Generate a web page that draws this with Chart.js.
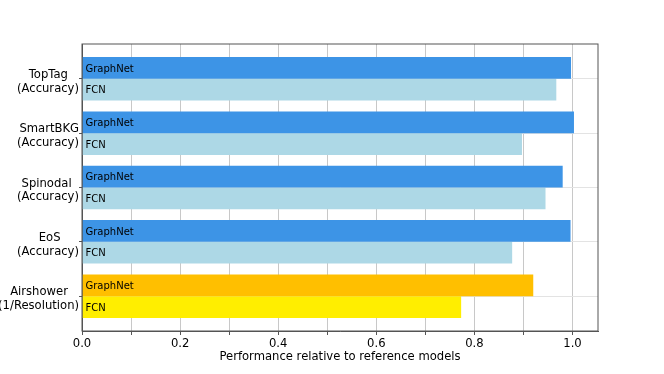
<!DOCTYPE html>
<html>
<head>
<meta charset="utf-8">
<script src="https://cdn.jsdelivr.net/npm/chart.js@4"></script>
<style>
  body { margin: 0; background: #fff; }
  canvas { display: block; }
</style>
</head>
<body>
<canvas id="perf" width="664" height="374"></canvas>
<script>
var categories = [
    ['TopTag', '(Accuracy)'],
    ['SmartBKG', '(Accuracy)'],
    ['Spinodal', '(Accuracy)'],
    ['EoS', '(Accuracy)'],
    ['Airshower', '(1/Resolution)']
];
var graphnetValues = [0.997, 1.003, 0.980, 0.996, 0.920];
var fcnValues = [0.967, 0.897, 0.945, 0.877, 0.773];
var xTicks = [0.0, 0.1, 0.2, 0.3, 0.4, 0.5, 0.6, 0.7, 0.8, 0.9, 1.0];

var graphnetColors = ['#3d94e6', '#3d94e6', '#3d94e6', '#3d94e6', '#ffbf00'];
var fcnColors = ['#add8e6', '#add8e6', '#add8e6', '#add8e6', '#ffee00'];

var FONT = '"DejaVu Sans", sans-serif';
var LABEL_SIZE = 11.6;

// matplotlib centres each multi-line tick label on its own widest line;
// pad the shorter lines with trailing spaces to get the same look when right aligned
var measure = document.createElement('canvas').getContext('2d');
measure.font = LABEL_SIZE + 'px ' + FONT;
function centerLines(lines) {
    var widths = lines.map(function (l) { return measure.measureText(l).width; });
    var maxW = Math.max.apply(null, widths);
    var spaceW = measure.measureText(' ').width;
    return lines.map(function (l, i) {
        var n = Math.round((maxW - widths[i]) / 2 / spaceW);
        return l + ' '.repeat(n);
    });
}
var yLabels = categories.map(centerLines);

function points(values) {
    return values.map(function (v, i) { return {x: v, y: i}; });
}

var barLabels = {
    id: 'barLabels',
    afterDatasetsDraw: function (chart) {
        var ctx = chart.ctx;
        ctx.save();
        ctx.font = '10px ' + FONT;
        ctx.fillStyle = '#000';
        ctx.textAlign = 'left';
        ctx.textBaseline = 'middle';
        chart.data.datasets.forEach(function (ds, di) {
            chart.getDatasetMeta(di).data.forEach(function (bar) {
                ctx.fillText(ds.label, bar.base + 3, bar.y + 1);
            });
        });
        ctx.restore();
    }
};

var frame = {
    id: 'frame',
    afterDraw: function (chart) {
        var a = chart.chartArea;
        var ctx = chart.ctx;
        ctx.save();
        ctx.strokeStyle = '#555';
        ctx.lineWidth = 1;
        ctx.strokeRect(a.left, a.top, a.right - a.left, a.bottom - a.top);
        ctx.restore();
    }
};

var perfChart = new Chart(document.getElementById('perf'), {
    type: 'bar',
    data: {
        datasets: [
            {
                label: 'GraphNet',
                data: points(graphnetValues),
                backgroundColor: graphnetColors,
                borderWidth: 0
            },
            {
                label: 'FCN',
                data: points(fcnValues),
                backgroundColor: fcnColors,
                borderWidth: 0
            }
        ]
    },
    options: {
        indexAxis: 'y',
        responsive: false,
        animation: false,
        categoryPercentage: 0.8,
        barPercentage: 1.0,
        layout: {
            padding: {top: 44, right: 66, left: 0, bottom: 0}
        },
        plugins: {
            legend: {display: false},
            tooltip: {enabled: false}
        },
        scales: {
            x: {
                type: 'linear',
                min: 0,
                max: 1.052,
                z: 1,
                afterBuildTicks: function (scale) {
                    scale.ticks = xTicks.map(function (v) { return {value: v}; });
                },
                afterFit: function (scale) { scale.height = 43; },
                grid: {
                    color: 'rgba(170,170,170,0.65)',
                    tickColor: '#555',
                    tickLength: 4
                },
                border: {color: '#555'},
                ticks: {
                    color: '#000',
                    padding: 2,
                    maxRotation: 0,
                    autoSkip: false,
                    font: {family: FONT, size: LABEL_SIZE},
                    callback: function (value, index) {
                        return index % 2 === 0 ? value.toFixed(1) : '';
                    }
                },
                title: {
                    display: true,
                    text: 'Performance relative to reference models',
                    color: '#000',
                    font: {family: FONT, size: LABEL_SIZE},
                    padding: {top: 0, bottom: 10}
                }
            },
            y: {
                type: 'linear',
                min: -0.64,
                max: 4.64,
                reverse: true,
                offset: false,
                afterBuildTicks: function (scale) {
                    scale.ticks = categories.map(function (c, i) { return {value: i}; });
                },
                afterFit: function (scale) { scale.width = 82; },
                grid: {
                    offset: false,
                    color: '#e3e3e3',
                    tickColor: '#555',
                    tickLength: 3
                },
                border: {color: '#555'},
                ticks: {
                    color: '#000',
                    padding: 0,
                    labelOffset: 3,
                    autoSkip: false,
                    font: {family: FONT, size: LABEL_SIZE, lineHeight: 1.17},
                    callback: function (value, index) {
                        return yLabels[index];
                    }
                }
            }
        }
    },
    plugins: [barLabels, frame]
});
</script>
</body>
</html>
